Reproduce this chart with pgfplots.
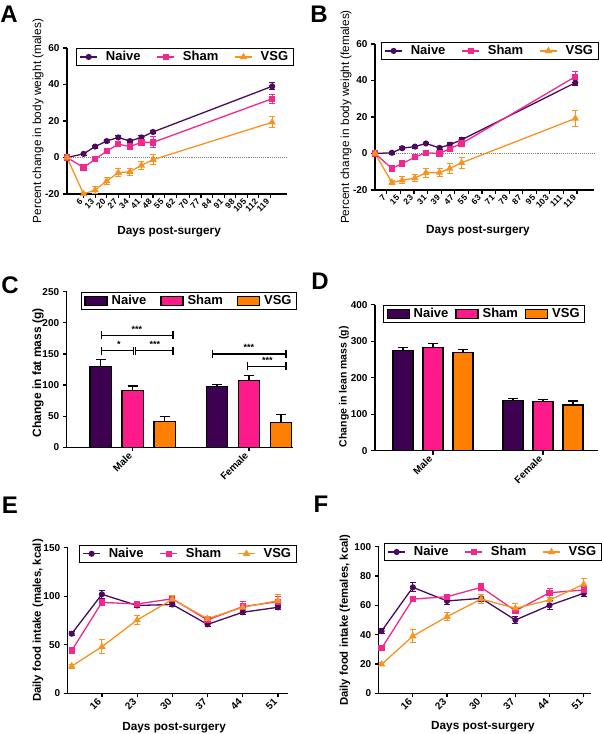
\documentclass[border=0pt]{standalone}
\usepackage{pgfplots}
\pgfplotsset{compat=1.18}
\usepackage{fontspec}
\setmainfont{Liberation Sans}
\definecolor{cNa}{HTML}{4B0A5E}
\definecolor{cSh}{HTML}{F2288C}
\definecolor{cVs}{HTML}{F7931E}
\definecolor{bNa}{HTML}{3E0050}
\definecolor{bSh}{HTML}{FF1A8C}
\definecolor{bVs}{HTML}{FF8000}
\pgfplotsset{
  gp/.style={scale only axis, clip=false,
    axis x line*=bottom, axis y line*=left,
    axis line style={line width=1.3pt,-},
    tick style={line width=1.2pt,black}, tick align=outside, major tick length=4pt,
    yticklabel style={font=\bfseries\fontsize{10}{11}\selectfont},
    xticklabel style={font=\bfseries\fontsize{10}{11}\selectfont, rotate=45, anchor=east},
    /pgf/number format/assume math mode=true,
    label style={font=\bfseries\fontsize{11.8}{12}\selectfont},
    ylabel style={anchor=center},
    xlabel style={anchor=center},
    legend columns=3,
    legend style={anchor=north west, draw=black, line width=1pt, fill=white,
       font=\bfseries\fontsize{13}{14}\selectfont, inner xsep=3pt, inner ysep=1pt,
       /tikz/every even column/.append style={column sep=14pt}},
    legend cell align=left,
  },
  lnax/.style={gp,
    error bars/y dir=both, error bars/y explicit,
    error bars/error bar style={line width=1pt},
    error bars/error mark options={line width=1pt, mark size=3pt, rotate=90}},
  brax/.style={gp, ybar=#1,
    error bars/y dir=plus, error bars/y explicit,
    error bars/error bar style={line width=1.3pt, black},
    error bars/error mark options={line width=1.3pt, black, mark size=5pt, rotate=90},
    legend image code/.code={\draw[##1, draw=black, line width=1.2pt] (0pt,-4.5pt) rectangle (22pt,4.5pt);}},
  pNa/.style={color=cNa, line width=1.3pt, mark=*, mark size=2.4pt, mark options={solid, fill=cNa}},
  pSh/.style={color=cSh, line width=1.3pt, mark=square*, mark size=2.5pt, mark options={solid, fill=cSh}},
  pVs/.style={color=cVs, line width=1.3pt, mark=triangle*, mark size=3pt, mark options={solid, fill=cVs}},
}
\newcommand{\legsp}[1]{\hspace{6pt}#1}
\begin{document}
\begin{tikzpicture}
\useasboundingbox (0,0) rectangle (602pt,-734pt);
\tikzset{plet/.style={font=\bfseries\fontsize{24}{24}\selectfont}}
\node[plet] at (9pt,-14pt) {A};
\node[plet] at (319pt,-14pt) {B};
\node[plet] at (10pt,-285pt) {C};
\node[plet] at (320pt,-281pt) {D};
\node[plet] at (10pt,-505pt) {E};
\node[plet] at (321pt,-504pt) {F};

% ---------- A ----------
\begin{axis}[lnax, at={(67pt,-194pt)}, anchor=south west, width=220pt, height=146pt,
  xmin=-4, xmax=129, ymin=-20, ymax=60, ytick={-20,0,20,40,60},
  xtick={6,13,20,27,34,41,48,55,62,70,77,84,91,98,105,112,119},
  xticklabel style={font=\bfseries\fontsize{8.5}{9}\selectfont},
  xlabel={Days post-surgery}, ylabel={Percent change in body weight (males)},
  ylabel style={at={(rel axis cs:-0.132,0.5)}, font=\fontsize{11.8}{12}\selectfont},
  xlabel style={at={(rel axis cs:0.464,-0.26)}},
  legend style={at={(0.041,1)}}]
\draw[gray, densely dotted, line width=0.9pt] (axis cs:-4,0) -- (axis cs:129,0);
\addplot[pNa] coordinates {(-4,0) +- (0,0) (6,2) +- (0,0.8) (13,6) +- (0,0.8) (20,9) +- (0,0.8) (27,11) +- (0,0.8) (34,9) +- (0,0.8) (41,11) +- (0,1) (48,14) +- (0,1) (120,39) +- (0,2)};
\addplot[pSh] coordinates {(-4,0) +- (0,0) (6,-5.5) +- (0,1) (13,-1) +- (0,1.2) (20,3.5) +- (0,1) (27,7.3) +- (0,1.5) (34,6) +- (0,1.5) (41,8.3) +- (0,1.5) (48,8.3) +- (0,3) (120,32.2) +- (0,2.5)};
\addplot[pVs] coordinates {(-4,0) +- (0,0) (6,-20) +- (0,1) (13,-17.8) +- (0,1.8) (20,-12.9) +- (0,2) (27,-8.3) +- (0,2.3) (34,-7.8) +- (0,1.8) (41,-4.3) +- (0,2) (48,-1.2) +- (0,2.8) (120,19.3) +- (0,3)};
\legend{\legsp{Naive},\legsp{Sham},\legsp{VSG}}
\end{axis}

% ---------- B ----------
\begin{axis}[lnax, at={(375pt,-190pt)}, anchor=south west, width=219pt, height=146pt,
  xmin=0, xmax=129, ymin=-20, ymax=60, ytick={-20,0,20,40,60},
  xtick={7,15,23,31,39,47,55,63,71,79,87,95,103,111,119},
  xticklabel style={font=\bfseries\fontsize{8.5}{9}\selectfont},
  xlabel={Days post-surgery}, ylabel={Percent change in body weight (females)},
  ylabel style={at={(rel axis cs:-0.132,0.5)}, font=\fontsize{11.8}{12}\selectfont},
  xlabel style={at={(rel axis cs:0.47,-0.28)}},
  legend style={at={(0.027,1.014)}}]
\draw[gray, densely dotted, line width=0.9pt] (axis cs:0,0) -- (axis cs:129,0);
\addplot[pNa] coordinates {(0,0) +- (0,0) (10,0.4) +- (0,0.8) (16,2.9) +- (0,0.8) (23.5,3.8) +- (0,0.8) (30,5.5) +- (0,0.8) (38,3.1) +- (0,0.8) (44,4.8) +- (0,1.5) (51,7.5) +- (0,1.5) (118,38.8) +- (0,1.5)};
\addplot[pSh] coordinates {(0,0) +- (0,0) (10,-8.2) +- (0,1) (16,-5.5) +- (0,1) (23.5,-2) +- (0,1) (30,0.4) +- (0,1) (38,0) +- (0,1) (44,2.6) +- (0,1) (51,5.5) +- (0,1.5) (118,42.1) +- (0,3)};
\addplot[pVs] coordinates {(0,0) +- (0,0) (10,-15.9) +- (0,1) (16,-14.7) +- (0,2) (23.5,-13.4) +- (0,2) (30,-10.6) +- (0,2.5) (38,-10.4) +- (0,2) (44,-8.2) +- (0,2.5) (51,-5.1) +- (0,3) (118,19.2) +- (0,4.5)};
\legend{\legsp{Naive},\legsp{Sham},\legsp{VSG}}
\end{axis}

% ---------- C ----------
\begin{axis}[brax=10.5pt, bar width=21.5pt, at={(66.7pt,-447.3pt)}, anchor=south west, width=226.3pt, height=155.6pt,
  xmin=-0.57, xmax=1.38, ymin=0, ymax=250, ytick={0,50,100,150,200,250},
  xtick={0,1}, xticklabels={Male,Female},
  xticklabel style={font=\bfseries\fontsize{10}{11}\selectfont},
  ylabel={Change in fat mass (g)},
  ylabel style={at={(rel axis cs:-0.127,0.478)}, font=\bfseries\fontsize{12}{12}\selectfont},
  legend style={at={(0.063,1)}, /tikz/every even column/.append style={column sep=12pt}}]
\addplot[fill=bNa, draw=black, line width=1.3pt] coordinates {(0,129.5) +- (0,12) (1,97.5) +- (0,3)};
\addplot[fill=bSh, draw=black, line width=1.3pt] coordinates {(0,91) +- (0,7.5) (1,107) +- (0,8.5)};
\addplot[fill=bVs, draw=black, line width=1.3pt] coordinates {(0,41) +- (0,9) (1,39.5) +- (0,13)};
\legend{\hspace{2pt}Naive,\hspace{2pt}Sham,\hspace{2pt}VSG}
\begin{scope}[line width=1.3pt]
\draw (axis cs:-0.273,180) -- (axis cs:0.347,180);
\draw (axis cs:-0.273,173.6) -- (axis cs:-0.273,186.4);
\draw (axis cs:0.347,173.6) -- (axis cs:0.347,186.4);
\draw (axis cs:-0.273,155) -- (axis cs:0.005,155);
\draw (axis cs:0.025,155) -- (axis cs:0.347,155);
\draw (axis cs:-0.273,148.6) -- (axis cs:-0.273,161.4);
\draw (axis cs:0.005,148.6) -- (axis cs:0.005,161.4);
\draw (axis cs:0.025,148.6) -- (axis cs:0.025,161.4);
\draw (axis cs:0.347,148.6) -- (axis cs:0.347,161.4);
\draw (axis cs:0.684,150) -- (axis cs:1.32,150);
\draw (axis cs:0.684,143.6) -- (axis cs:0.684,156.4);
\draw (axis cs:1.32,143.6) -- (axis cs:1.32,156.4);
\draw (axis cs:0.99,130) -- (axis cs:1.32,130);
\draw (axis cs:0.99,123.6) -- (axis cs:0.99,136.4);
\draw (axis cs:1.32,123.6) -- (axis cs:1.32,136.4);
\end{scope}
\tikzset{st/.style={font=\bfseries\fontsize{9}{9}\selectfont, anchor=south, inner sep=1pt}}
\node[st] at (axis cs:0.035,183) {***};
\node[st] at (axis cs:-0.12,158) {*};
\node[st] at (axis cs:0.19,158) {***};
\node[st] at (axis cs:1.0,153) {***};
\node[st] at (axis cs:1.16,133) {***};
\end{axis}

% ---------- D ----------
\begin{axis}[brax=10pt, bar width=20pt, at={(375pt,-450.7pt)}, anchor=south west, width=223pt, height=146pt,
  xmin=-0.527, xmax=1.5, ymin=0, ymax=400, ytick={0,100,200,300,400},
  xtick={0,1}, xticklabels={Male,Female},
  xticklabel style={font=\bfseries\fontsize{10}{11}\selectfont},
  ylabel={Change in lean mass (g)},
  ylabel style={at={(rel axis cs:-0.139,0.438)}, font=\bfseries\fontsize{10.5}{11}\selectfont},
  legend style={at={(0.036,1)}, /tikz/every even column/.append style={column sep=5pt}}]
\addplot[fill=bNa, draw=black, line width=1.3pt] coordinates {(0,274) +- (0,8) (1,137) +- (0,6)};
\addplot[fill=bSh, draw=black, line width=1.3pt] coordinates {(0,283) +- (0,10) (1,135) +- (0,6)};
\addplot[fill=bVs, draw=black, line width=1.3pt] coordinates {(0,269.6) +- (0,8) (1,125) +- (0,11)};
\legend{\hspace{2pt}Naive,\hspace{2pt}Sham,\hspace{2pt}VSG}
\end{axis}

% ---------- E ----------
\begin{axis}[lnax, at={(67.7pt,-693.3pt)}, anchor=south west, width=220.3pt, height=145.6pt,
  xmin=9.2, xmax=53, ymin=0, ymax=150, ytick={0,50,100,150},
  xtick={16,23,30,37,44,51},
  xlabel={Days post-surgery}, ylabel={Daily food intake (males, kcal)},
  ylabel style={at={(rel axis cs:-0.135,0.5)}, font=\bfseries\fontsize{11.4}{12}\selectfont},
  xlabel style={at={(rel axis cs:0.483,-0.238)}},
  legend style={at={(0.051,1.02)}}]
\addplot[pNa] coordinates {(10,61.4) +- (0,2) (16,102) +- (0,4) (23,90.5) +- (0,2.5) (30,91.5) +- (0,2) (37,71) +- (0,2) (44,83.5) +- (0,2) (51,88.6) +- (0,2)};
\addplot[pSh] coordinates {(10,44) +- (0,2) (16,93.7) +- (0,2) (23,92) +- (0,3) (30,97.4) +- (0,3) (37,75.5) +- (0,2) (44,89.3) +- (0,5) (51,94.4) +- (0,5)};
\addplot[pVs] coordinates {(10,28) +- (0,2) (16,48) +- (0,7) (23,75.5) +- (0,5) (30,96.8) +- (0,4) (37,76.9) +- (0,2) (44,88.6) +- (0,3) (51,95.4) +- (0,6)};
\legend{\legsp{Naive},\legsp{Sham},\legsp{VSG}}
\end{axis}

% ---------- F ----------
\begin{axis}[lnax, at={(378.7pt,-693.3pt)}, anchor=south west, width=212.3pt, height=146.6pt,
  xmin=9, xmax=52.5, ymin=0, ymax=100, ytick={0,20,40,60,80,100},
  xtick={16,23,30,37,44,51},
  xlabel={Days post-surgery}, ylabel={Daily food intake (females, kcal)},
  ylabel style={at={(rel axis cs:-0.159,0.5)}, font=\bfseries\fontsize{11.3}{12}\selectfont},
  xlabel style={at={(rel axis cs:0.491,-0.23)}},
  legend style={at={(0.025,1.025)}}]
\addplot[pNa] coordinates {(9.6,42.5) +- (0,2) (16,72.3) +- (0,3) (23,63) +- (0,2.5) (30,64.8) +- (0,2.5) (37,50) +- (0,2.5) (44,60) +- (0,3) (51,68.2) +- (0,2.5)};
\addplot[pSh] coordinates {(9.6,30.7) +- (0,1.5) (16,64.3) +- (0,1.5) (23,65.9) +- (0,1.5) (30,72.3) +- (0,2.5) (37,56.3) +- (0,2) (44,68.6) +- (0,3) (51,70.5) +- (0,2.5)};
\addplot[pVs] coordinates {(9.6,19.8) +- (0,1) (16,39) +- (0,4.5) (23,52.3) +- (0,2.5) (30,64.3) +- (0,3) (37,58) +- (0,3) (44,63.6) +- (0,2) (51,74.4) +- (0,4)};
\legend{\legsp{Naive},\legsp{Sham},\legsp{VSG}}
\end{axis}
\end{tikzpicture}
\end{document}
